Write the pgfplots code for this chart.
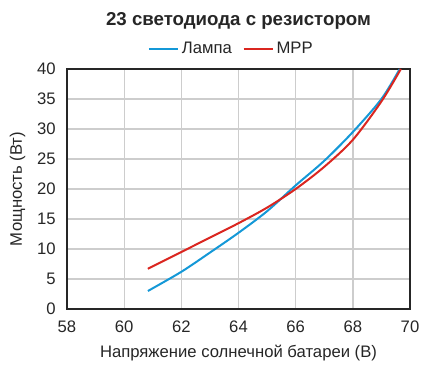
\documentclass[border=0pt]{standalone}
\usepackage{pgfplots}
\pgfplotsset{compat=1.18}
\usepackage{fontspec}
\setmainfont{Liberation Sans}
\definecolor{lblue}{RGB}{20,152,215}
\definecolor{lred}{RGB}{218,38,32}
\definecolor{gridc}{RGB}{205,205,205}
\begin{document}
\begin{tikzpicture}
\begin{axis}[
  scale only axis,
  width=257.25pt, height=180pt,
  xmin=58, xmax=70, ymin=0, ymax=40,
  xtick={58,60,...,70}, ytick={0,5,...,40},
  grid=major,
  major grid style={gridc, line width=1pt},
  axis line style={black!85, line width=1pt},
  tick style={draw=none},
  /pgf/number format/assume math mode=true,
  ticklabel style={font=\fontsize{12.5}{14}\selectfont, text=black!85},
  xticklabel style={yshift=-5pt},
  yticklabel style={xshift=-5pt},
  xlabel={Напряжение солнечной батареи (В)},
  ylabel={Мощность (Вт)},
  label style={font=\fontsize{12.5}{14}\selectfont, text=black!85},
  xlabel style={yshift=-3pt},
  ylabel style={yshift=2pt},
  title={\textbf{23 светодиода с резистором}},
  title style={font=\fontsize{14}{16}\selectfont, text=black!85, yshift=20pt},
  legend style={at={(0.48,1.0)}, anchor=south, draw=none, fill=none,
    legend columns=2, font=\fontsize{12.5}{14}\selectfont, text=black!85,
    /tikz/every even column/.append style={column sep=6pt}, inner sep=0pt, yshift=8pt},
  legend cell align=left,
  legend image code/.code={\draw[#1, line width=1.5pt] (0pt,0pt) -- (22pt,0pt);},
]
\addplot[lblue, line width=1.5pt, smooth] coordinates {
(60.83,3.0) (62,6.2) (63,9.4) (64,12.7) (65,16.3) (66,20.6) (67,24.7) (68,29.5) (69,35.0) (69.64,40)
};
\addlegendentry{Лампа}
\addplot[lred, line width=1.5pt, smooth] coordinates {
(60.83,6.7) (62,9.5) (63,11.9) (64,14.3) (65,16.9) (66,20.0) (67,23.7) (68,28.2) (69,34.6) (69.68,40)
};
\addlegendentry{MPP}
\end{axis}
\path ([shift={(-50.25pt,-48pt)}]current axis.south west) rectangle ([shift={(25.5pt,51.75pt)}]current axis.north east);
\end{tikzpicture}
\end{document}
